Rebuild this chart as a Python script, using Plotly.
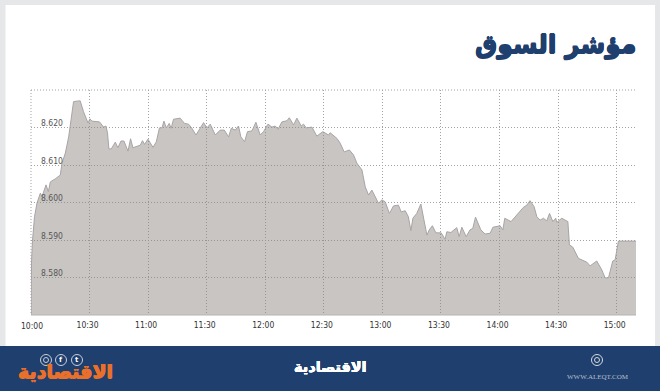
import plotly.graph_objects as go

minutes = [0,0.3,0.8,1.8,3.1,4.8,5.6,7.7,8.9,9.9,12.4,15.0,15.9,17.6,19.3,21.8,24.4,25.2,26.9,29.2,30.2,31.2,35.1,37.2,38.4,39.2,39.9,41.1,43.2,44.5,46.1,47.6,49.7,51.0,52.2,56.0,57.1,58.2,59.9,62.5,64.2,65.8,67.1,68.1,69.3,70.8,71.8,73.0,76.4,78.6,80.7,82.4,84.5,86.2,88.4,90.1,91.8,94.4,96.9,99.0,101.2,102.6,104.6,106.3,107.5,109.4,110.9,113.2,115.2,117.4,119.1,121.4,123.4,125.1,126.5,128.5,131.1,132.3,134.5,136.2,138.4,139.6,141.0,143.9,146.4,149.5,152.4,153.2,156.7,158.4,160.4,163.1,165.2,166.9,169.5,171.2,172.9,174.6,176.3,178.0,179.7,181.4,183.6,185.7,188.2,189.6,191.7,193.3,194.6,195.6,197.6,199.7,202.8,204.0,205.6,207.4,210.1,212.1,213.0,215.1,218.1,219.3,220.7,222.9,224.9,226.3,227.7,230.4,232.6,235.2,236.6,240.3,241.7,242.7,245.9,248.8,252.2,254.0,255.6,257.7,259.1,260.8,262.5,264.2,265.6,267.3,268.8,269.3,271.9,275.0,275.8,277.5,280.4,284.7,286.4,289.8,292.4,294.1,295.8,298.0,299.2,300.9,309.9]
index_values = [8.5700,8.5847,8.5900,8.5962,8.5999,8.6025,8.6015,8.6047,8.6029,8.6055,8.6063,8.6073,8.6105,8.6132,8.6175,8.6269,8.6271,8.6271,8.6242,8.6212,8.6223,8.6217,8.6215,8.6201,8.6204,8.6185,8.6143,8.6143,8.6161,8.6146,8.6164,8.6164,8.6137,8.6170,8.6146,8.6153,8.6165,8.6155,8.6169,8.6147,8.6162,8.6199,8.6199,8.6217,8.6199,8.6211,8.6198,8.6222,8.6225,8.6211,8.6209,8.6198,8.6180,8.6193,8.6213,8.6199,8.6209,8.6180,8.6193,8.6193,8.6175,8.6198,8.6193,8.6204,8.6175,8.6162,8.6189,8.6191,8.6214,8.6180,8.6189,8.6209,8.6201,8.6204,8.6195,8.6215,8.6218,8.6226,8.6207,8.6225,8.6204,8.6209,8.6199,8.6201,8.6177,8.6189,8.6180,8.6186,8.6171,8.6158,8.6135,8.6140,8.6127,8.6105,8.6087,8.6042,8.6020,8.6033,8.6015,8.5998,8.6007,8.6002,8.5971,8.5991,8.5993,8.5975,8.5978,8.5962,8.5925,8.5958,8.5971,8.5996,8.5913,8.5927,8.5938,8.5919,8.5919,8.5902,8.5922,8.5920,8.5933,8.5909,8.5934,8.5909,8.5927,8.5931,8.5961,8.5927,8.5916,8.5918,8.5934,8.5938,8.5927,8.5958,8.5949,8.5967,8.5987,8.5993,8.6005,8.5989,8.5962,8.5953,8.5958,8.5951,8.5971,8.5949,8.5958,8.5947,8.5958,8.5949,8.5887,8.5881,8.5851,8.5841,8.5831,8.5844,8.5820,8.5799,8.5799,8.5844,8.5847,8.5897,8.5897]
x_ticks = [0,30,60,90,120,150,180,210,240,270,300]
x_labels = ["10:00","10:30","11:00","11:30","12:00","12:30","13:00","13:30","14:00","14:30","15:00"]
y_ticks = [8.58,8.59,8.60,8.61,8.62]
y_labels = ["8.580","8.590","8.600","8.610","8.620"]

title_text = "مؤشر السوق"
brand_text = "الاقتصادية"
site_text = "WWW.ALEQT.COM"

L, R, T, B = 31, 636, 90, 315
W, H = 660, 391
px = lambda x: (x - L) / (R - L)
py = lambda y: (B - y) / (B - T)
GRID = "#a3a3a3"
DASH = "1px,2px"
TICK_FONT = dict(size=8.5, color="#333333", family="DejaVu Sans Condensed")

def rect(x0, y0, x1, y1, color):
    return dict(type="rect", xref="paper", yref="paper", x0=px(x0), x1=px(x1), y0=py(y0), y1=py(y1),
                fillcolor=color, line_width=0, layer="below")

def ring(cx, cy, r, color):
    return dict(type="circle", xref="paper", yref="paper", x0=px(cx - r), x1=px(cx + r), y0=py(cy - r), y1=py(cy + r),
                line=dict(color=color, width=1), fillcolor="rgba(0,0,0,0)", layer="above")

def edge(x0, y0, x1, y1):
    return dict(type="line", xref="paper", yref="paper", x0=px(x0), x1=px(x1), y0=py(y0), y1=py(y1),
                line=dict(color=GRID, width=1, dash=DASH), layer="below")

def label(x, y, text, size, color, anchor="center", family="DejaVu Sans", bold=True, heavy=None):
    t = f"<b>{text}</b>" if bold else text
    font = dict(size=size, color=color, family=family)
    if heavy:
        font["shadow"] = f"{heavy}px 0 0 {color}, -{heavy}px 0 0 {color}, 0 {heavy}px 0 {color}, 0 -{heavy}px 0 {color}"
    return dict(xref="paper", yref="paper", x=px(x), y=py(y), text=t, showarrow=False, xanchor=anchor, yanchor="middle", font=font)

fig = go.Figure(go.Scatter(x=minutes, y=index_values, mode="lines", fill="tozeroy",
                           fillcolor="rgba(140,132,128,0.47)",
                           line=dict(color="#a8a4a6", width=1), hoverinfo="skip"))

fig.update_xaxes(range=[0, 309.9], tickmode="array", tickvals=x_ticks, ticktext=x_labels, showgrid=True,
                 gridcolor=GRID, griddash=DASH, gridwidth=1, zeroline=False, showline=False, ticks="",
                 ticklabelshift=-2, ticklabelstandoff=3, ticklabeloverflow="allow", tickfont=TICK_FONT)
fig.update_yaxes(range=[8.57, 8.63], tickmode="array", tickvals=y_ticks, ticktext=y_labels, showgrid=True,
                 gridcolor=GRID, griddash=DASH, gridwidth=1, zeroline=False, showline=False, ticks="",
                 ticklabelposition="inside", ticklabelshift=-4, ticklabelstandoff=7,
                 tickfont=dict(size=8.5, color="#555555", family="DejaVu Sans Condensed"))

shapes = [
    rect(0, 0, W, H, "#e6e7e9"),
    rect(5.5, 5, 655, 346, "#ffffff"),
    rect(0, 346, W, H, "#1f3f6e"),
    edge(L, T, R, T),
    edge(L, T, L, B),
    dict(type="line", xref="paper", yref="paper", x0=0, x1=1, y0=0, y1=0, line=dict(color="#b5b2b2", width=1), layer="above"),
    ring(46, 360, 5.5, "#c9ced8"),
    ring(61, 360, 5.5, "#c9ced8"),
    ring(77, 360, 5.5, "#c9ced8"),
    ring(46, 360, 2.5, "#c9ced8"),
    ring(597, 360, 5.5, "#d5d9e0"),
    ring(597, 360, 2.5, "#d5d9e0"),
]
annotations = [
    dict(xref="x", yref="paper", x=x_ticks[0], y=py(325.5), text=x_labels[0], showarrow=False, xanchor="center",
         yanchor="middle", xshift=1, font=TICK_FONT),
    label(638, 45, title_text, 25, "#1f3f6e", anchor="right", heavy=0.6),
    label(65, 371, brand_text, 19, "#e8702a", heavy=0.5),
    label(330, 367, brand_text, 14.5, "#ffffff", heavy=0.3),
    label(61, 360, "f", 7, "#ffffff"),
    label(77, 360, "t", 7, "#ffffff"),
    label(598, 377, site_text, 7, "#b8bfcc", family="Liberation Serif", bold=False),
]

fig.update_layout(width=W, height=H, autosize=False, margin=dict(l=L, r=W - R, t=T, b=H - B, pad=0),
                  paper_bgcolor="#e6e7e9", plot_bgcolor="rgba(0,0,0,0)", showlegend=False,
                  shapes=shapes, annotations=annotations)
fig.write_html("out.html", config={"displayModeBar": False},
               post_script="document.body.style.margin='0';document.documentElement.style.overflow='hidden';")
